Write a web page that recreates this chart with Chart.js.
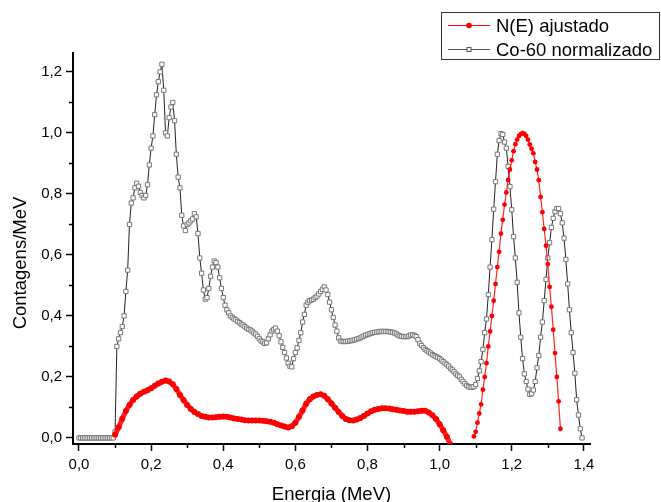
<!DOCTYPE html>
<html>
<head>
<meta charset="utf-8">
<script src="https://cdn.jsdelivr.net/npm/chart.js@4/dist/chart.umd.min.js"></script>
<style>
  html, body { margin: 0; padding: 0; background: #fff; }
  #wrap { width: 661px; height: 502px; position: relative; }
</style>
</head>
<body>
<div id="wrap"><canvas id="spectrum"></canvas></div>
<script>
// Co-60 normalizado: canais de 0,005 MeV a partir de 0
const coStart = 0.0;
const coStep = 0.005;
const coNorm = [
    0, 0, 0, 0, 0, 0, 0, 0, 0, 0,
    0, 0, 0, 0, 0, 0, 0, 0, 0, 0,
    0.02, 0.30, 0.325, 0.345, 0.365, 0.40, 0.48, 0.55, 0.70, 0.77,
    0.787, 0.82, 0.835, 0.825, 0.805, 0.795, 0.787, 0.795, 0.83, 0.895,
    0.95, 0.99, 1.06, 1.125, 1.168, 1.20, 1.225, 1.14, 1.0, 0.99,
    1.05, 1.085, 1.10, 1.04, 0.93, 0.855, 0.82, 0.73, 0.695, 0.68,
    0.70, 0.705, 0.712, 0.718, 0.735, 0.725, 0.67, 0.59, 0.54, 0.485,
    0.455, 0.46, 0.49, 0.53, 0.56, 0.58, 0.575, 0.56, 0.525, 0.49,
    0.46, 0.435, 0.42, 0.41, 0.40, 0.395, 0.39, 0.387, 0.382, 0.378,
    0.373, 0.37, 0.365, 0.36, 0.356, 0.354, 0.35, 0.344, 0.34, 0.333,
    0.325, 0.318, 0.315, 0.31, 0.312, 0.325, 0.338, 0.35, 0.355, 0.36,
    0.35, 0.335, 0.315, 0.297, 0.28, 0.262, 0.245, 0.235, 0.233, 0.26,
    0.28, 0.295, 0.32, 0.345, 0.38, 0.405, 0.435, 0.445, 0.45, 0.452,
    0.455, 0.46, 0.465, 0.472, 0.48, 0.487, 0.495, 0.485, 0.47, 0.445,
    0.42, 0.395, 0.37, 0.35, 0.328, 0.318, 0.316, 0.316, 0.316, 0.317,
    0.318, 0.319, 0.32, 0.322, 0.324, 0.326, 0.328, 0.331, 0.334, 0.337,
    0.339, 0.341, 0.343, 0.345, 0.346, 0.347, 0.348, 0.349, 0.349, 0.349,
    0.349, 0.349, 0.348, 0.347, 0.346, 0.344, 0.341, 0.337, 0.334, 0.333,
    0.332, 0.332, 0.332, 0.334, 0.337, 0.338, 0.336, 0.332, 0.322, 0.31,
    0.303, 0.296, 0.29, 0.286, 0.282, 0.278, 0.273, 0.27, 0.267, 0.264,
    0.26, 0.255, 0.25, 0.245, 0.24, 0.235, 0.228, 0.223, 0.217, 0.21,
    0.205, 0.20, 0.192, 0.185, 0.178, 0.172, 0.168, 0.166, 0.166, 0.168,
    0.175, 0.195, 0.22, 0.25, 0.29, 0.345, 0.39, 0.47, 0.56, 0.65,
    0.75, 0.84, 0.93, 0.975, 0.998, 0.995, 0.97, 0.95, 0.89, 0.824,
    0.748, 0.66, 0.59, 0.51, 0.41, 0.33, 0.26, 0.21, 0.185, 0.16,
    0.143, 0.145, 0.157, 0.185, 0.23, 0.27, 0.33, 0.38, 0.45, 0.52,
    0.59, 0.64, 0.69, 0.72, 0.742, 0.752, 0.752, 0.735, 0.705, 0.655,
    0.585, 0.505, 0.42, 0.345, 0.28, 0.212, 0.125, 0.075, 0.03, 0.0
];

// N(E) ajustado: parte contínua (passo 0,01) e pico (passo 0,005)
const fitStart = 0.10;
const fitStep = 0.01;
const fitLow = [
    0.01, 0.035, 0.063, 0.088, 0.108, 0.124, 0.136, 0.145, 0.151, 0.156,
    0.163, 0.171, 0.178, 0.184, 0.188, 0.185, 0.176, 0.16, 0.141, 0.124,
    0.108, 0.095, 0.085, 0.078, 0.072, 0.069, 0.067, 0.067, 0.068, 0.069,
    0.07, 0.069, 0.067, 0.064, 0.062, 0.06, 0.058, 0.057, 0.057, 0.057,
    0.057, 0.056, 0.055, 0.053, 0.05, 0.045, 0.041, 0.037, 0.034, 0.038,
    0.05, 0.069, 0.09, 0.112, 0.127, 0.136, 0.141, 0.143, 0.138, 0.127,
    0.113, 0.099, 0.085, 0.072, 0.062, 0.058, 0.057, 0.06, 0.065, 0.072,
    0.08, 0.087, 0.092, 0.095, 0.097, 0.097, 0.096, 0.094, 0.092, 0.09,
    0.088, 0.086, 0.086, 0.086, 0.087, 0.089, 0.089, 0.083, 0.074, 0.062,
    0.045, 0.025, 0.004, -0.022
];
const peakStart = 1.095;
const peakStep = 0.005;
const fitPeak = [
    0.005, 0.02, 0.05, 0.08, 0.11, 0.158, 0.20, 0.245, 0.30, 0.349,
    0.40, 0.45, 0.505, 0.56, 0.61, 0.67, 0.715, 0.765, 0.805, 0.846,
    0.88, 0.91, 0.94, 0.963, 0.978, 0.99, 0.996, 0.999, 0.997, 0.99,
    0.978, 0.962, 0.948, 0.933, 0.905, 0.88, 0.845, 0.79, 0.74, 0.685,
    0.63, 0.57, 0.495, 0.43, 0.355, 0.278, 0.20, 0.12, 0.03
];

const xTicks = [0, 0.2, 0.4, 0.6, 0.8, 1.0, 1.2, 1.4];
const xMinor = [0.1, 0.3, 0.5, 0.7, 0.9, 1.1, 1.3];
const yTicks = [0, 0.2, 0.4, 0.6, 0.8, 1.0, 1.2];
const yMinor = [0.1, 0.3, 0.5, 0.7, 0.9, 1.1];

const seriesNames = ['N(E) ajustado', 'Co-60 normalizado'];
const axisTitles = { x: 'Energia (MeV)', y: 'Contagens/MeV' };

const FONT = '"Liberation Sans", Arial, sans-serif';
const fmt = v => v.toFixed(1).replace('.', ',');

const toPoints = (start, step, values) =>
    values.map((v, i) => ({ x: +(start + i * step).toFixed(3), y: v }));

const fitData = toPoints(fitStart, fitStep, fitLow)
    .concat([{ x: 1.06, y: null }])
    .concat(toPoints(peakStart, peakStep, fitPeak));
const coData = toPoints(coStart, coStep, coNorm);

// ticks secundários, títulos dos eixos e legenda
const decorations = {
    id: 'decorations',
    afterDraw(chart) {
        const { ctx, chartArea } = chart;
        const xs = chart.scales.x;
        const ys = chart.scales.y;
        ctx.save();
        ctx.strokeStyle = '#000';
        ctx.lineWidth = 1.5;
        ctx.beginPath();
        xMinor.forEach(v => {
            const px = Math.round(xs.getPixelForValue(v)) + 0.5;
            ctx.moveTo(px, chartArea.bottom);
            ctx.lineTo(px, chartArea.bottom + 4);
        });
        yMinor.forEach(v => {
            const py = Math.round(ys.getPixelForValue(v)) + 0.5;
            ctx.moveTo(chartArea.left, py);
            ctx.lineTo(chartArea.left - 4, py);
        });
        ctx.stroke();

        ctx.fillStyle = '#000';
        ctx.font = '18.5px ' + FONT;
        ctx.textAlign = 'center';
        ctx.textBaseline = 'alphabetic';
        ctx.fillText(axisTitles.x, (chartArea.left + chartArea.right) / 2, 500);
        ctx.save();
        ctx.translate(25.5, 263);
        ctx.rotate(-Math.PI / 2);
        ctx.fillText(axisTitles.y, 0, 0);
        ctx.restore();

        // legenda
        ctx.strokeStyle = '#333';
        ctx.lineWidth = 1;
        ctx.strokeRect(441.5, 12.5, 218, 47);
        ctx.textAlign = 'left';

        ctx.strokeStyle = '#ff0000';
        ctx.lineWidth = 1.2;
        ctx.beginPath();
        ctx.moveTo(448, 25.5);
        ctx.lineTo(490, 25.5);
        ctx.stroke();
        ctx.fillStyle = '#ff0000';
        ctx.beginPath();
        ctx.arc(469, 25.5, 2.8, 0, Math.PI * 2);
        ctx.fill();
        ctx.fillStyle = '#000';
        ctx.fillText(seriesNames[0], 496, 32);

        ctx.strokeStyle = '#555';
        ctx.lineWidth = 1;
        ctx.beginPath();
        ctx.moveTo(448, 49.5);
        ctx.lineTo(490, 49.5);
        ctx.stroke();
        ctx.fillStyle = '#fff';
        ctx.fillRect(467, 47.5, 4, 4);
        ctx.strokeRect(467, 47.5, 4, 4);
        ctx.fillStyle = '#000';
        ctx.fillText(seriesNames[1], 496, 56);
        ctx.restore();
    }
};

const ctx = document.getElementById('spectrum').getContext('2d');
new Chart(ctx, {
    type: 'line',
    data: {
        datasets: [{
            label: seriesNames[0],
            data: fitData,
            borderColor: 'rgba(255, 0, 0, 0.85)',
            backgroundColor: '#ff0000',
            borderWidth: 1.2,
            pointBackgroundColor: '#ff0000',
            pointBorderWidth: 0,
            pointRadius: c => (c.raw && c.raw.x < 1.05 ? 3 : 2.4),
            segment: {
                borderWidth: c => (c.p0.parsed.x < 1.05 ? 5 : 1.2)
            },
            spanGaps: false,
            tension: 0
        }, {
            label: seriesNames[1],
            data: coData,
            borderColor: '#222',
            borderWidth: 1,
            pointStyle: 'rect',
            pointRadius: 3,
            pointBackgroundColor: '#fff',
            pointBorderColor: '#777',
            pointBorderWidth: 1,
            tension: 0
        }]
    },
    options: {
        responsive: true,
        maintainAspectRatio: false,
        animation: false,
        events: [],
        layout: { padding: { top: 53, right: 71, left: 0, bottom: 0 } },
        plugins: {
            legend: { display: false },
            tooltip: { enabled: false }
        },
        scales: {
            x: {
                type: 'linear',
                min: -0.0166,
                max: 1.417,
                afterBuildTicks: s => { s.ticks = xTicks.map(v => ({ value: v })); },
                afterFit: s => { s.height = 58; },
                ticks: {
                    callback: v => fmt(v),
                    font: { family: FONT, size: 15 },
                    color: '#000',
                    padding: 5,
                    maxRotation: 0,
                    autoSkip: false
                },
                grid: { drawOnChartArea: false, tickLength: 7, tickColor: '#000', tickWidth: 1.5 },
                border: { color: '#000', width: 2 }
            },
            y: {
                type: 'linear',
                min: -0.02,
                max: 1.262,
                afterBuildTicks: s => { s.ticks = yTicks.map(v => ({ value: v })); },
                afterFit: s => { s.width = 73; },
                ticks: {
                    callback: v => fmt(v),
                    font: { family: FONT, size: 15 },
                    color: '#000',
                    padding: 4,
                    autoSkip: false
                },
                grid: { drawOnChartArea: false, tickLength: 7, tickColor: '#000', tickWidth: 1.5 },
                border: { color: '#000', width: 2 }
            }
        }
    },
    plugins: [decorations]
});
</script>
</body>
</html>
